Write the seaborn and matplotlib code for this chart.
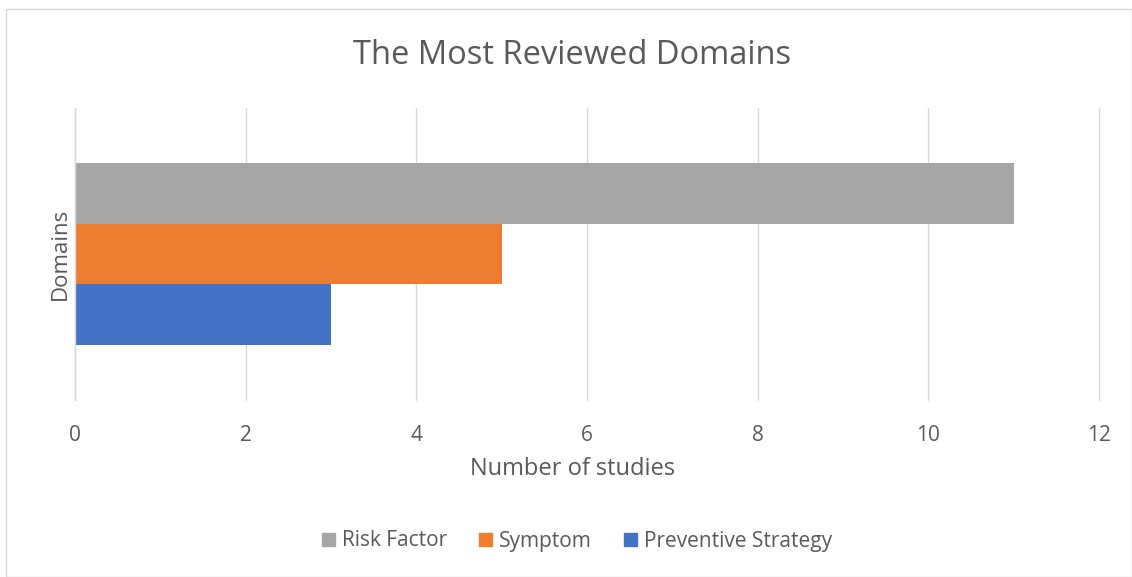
import numpy as np
import pandas as pd
import seaborn as sns
import matplotlib.pyplot as plt
from matplotlib.patches import Rectangle

# one category, three series (top to bottom as drawn)
category = ["Domains"]
series = ["Risk Factor", "Symptom", "Preventive Strategy"]
values = [11, 5, 3]
colors = ["#A5A5A5", "#ED7D31", "#4472C4"]

df = pd.DataFrame({"domain": category * len(series), "series": series, "studies": values})

sns.set_style("white")
plt.rcParams['font.family'] = ['Open Sans', 'DejaVu Sans']
text_col = "#595959"

W, H = 1132, 577
fig = plt.figure(figsize=(W / 100, H / 100), dpi=100)
ax = fig.add_axes([75 / W, (H - 400) / H, (1099 - 75) / W, (400 - 108) / H])

sns.barplot(data=df, x="studies", y="domain", hue="series", hue_order=series,
            palette=colors, orient="h", width=0.623, saturation=1, linewidth=0,
            ax=ax, legend=False)

ax.set_xlim(0, 12)
ax.set_ylim(0.5, -0.5)
ax.set_xticks(np.arange(0, 13, 2))
ax.set_yticks([])
ax.grid(axis="x", color="#D9D9D9", linewidth=1)
for gl in ax.get_xgridlines():
    gl.set_clip_on(False)
ax.set_axisbelow(True)
for s in ["top", "right", "bottom"]:
    ax.spines[s].set_visible(False)
ax.spines["left"].set_color("#D9D9D9")
ax.spines["left"].set_linewidth(1)
ax.tick_params(axis="x", length=0, pad=18, labelsize=15, labelcolor=text_col)

ax.set_xlabel("Number of studies", fontsize=17, color=text_col)
ax.xaxis.set_label_coords((573 - 75) / 1024, -(469 - 400) / 292, transform=ax.transAxes)
ax.xaxis.label.set_va("center")
ax.set_ylabel("Domains", fontsize=16, color=text_col, labelpad=3)

fig.text(572 / W, 1 - 56 / H, "The Most Reviewed Domains", ha="center", va="center",
         fontsize=23.5, color=text_col)

handles = [Rectangle((0, 0), 1, 1, color=c) for c in colors]
fig.legend(handles, series, loc="center", bbox_to_anchor=(577 / W, 1 - 541 / H), ncol=3,
           frameon=False, fontsize=15, labelcolor=text_col, handlelength=0.6,
           handleheight=0.6, handletextpad=0.35, columnspacing=1.55)

# outer chart border
fig.patches.append(Rectangle((6 / W, 0.5 / H), (W - 6.5) / W, (H - 9.5) / H,
                             transform=fig.transFigure, fill=False,
                             edgecolor="#D9D9D9", linewidth=1))

fig.savefig("out.png", dpi=100)
